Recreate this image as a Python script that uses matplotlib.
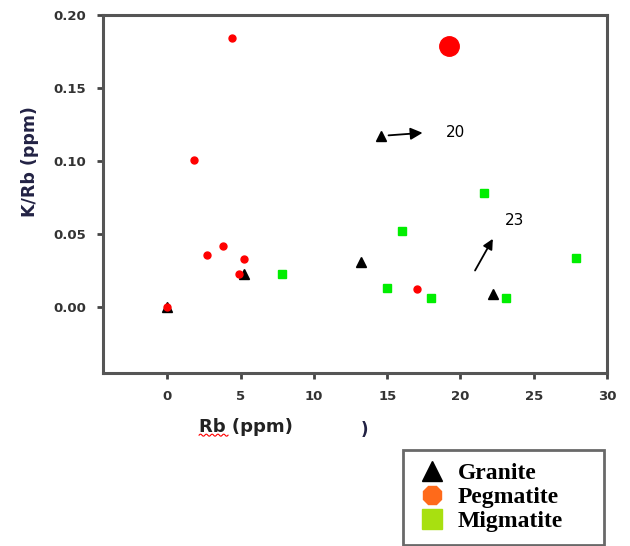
import matplotlib.pyplot as plt
from matplotlib.lines import Line2D
import numpy as np

# Pegmatite (red circles)
peg_rb = [0.0, 4.4, 1.8, 2.7, 3.8, 5.2, 4.9, 17.0]
peg_krb = [0.0, 0.184, 0.1005, 0.0355, 0.042, 0.033, 0.0225, 0.0123]
big_rb = [19.2]
big_krb = [0.179]

# Granite (black triangles)
gra_rb = [0.0, 5.2, 13.2, 14.6, 22.2]
gra_krb = [0.0, 0.023, 0.031, 0.117, 0.009]

# Migmatite (green squares)
mig_rb = [7.8, 16.0, 15.0, 18.0, 21.6, 23.1, 27.9]
mig_krb = [0.0225, 0.052, 0.013, 0.0065, 0.078, 0.0065, 0.0335]

xticks = [0, 5, 10, 15, 20, 25, 30]
yticks = [0.00, 0.05, 0.10, 0.15, 0.20]

fig = plt.figure(figsize=(6.3, 5.46), dpi=100)
ax = fig.add_axes([0.1635, 0.3168, 0.80, 0.6557])

ax.plot(mig_rb, mig_krb, 's', color='#00ee00', ms=6, ls='none')
ax.plot(gra_rb, gra_krb, '^', color='black', ms=6.5, ls='none')
ax.plot(peg_rb, peg_krb, 'o', color='#ff0000', ms=5, ls='none')
ax.plot(big_rb, big_krb, 'o', color='#ff0000', ms=14, ls='none')

ax.annotate('', xy=(17.6, 0.1195), xytext=(14.9, 0.1175),
            arrowprops=dict(arrowstyle='-|>', color='black', lw=1.3, mutation_scale=18))
ax.text(19.0, 0.1195, '20', fontsize=11, va='center', ha='left')
ax.annotate('', xy=(22.3, 0.0485), xytext=(20.9, 0.0235),
            arrowprops=dict(arrowstyle='-|>', color='black', lw=1.3, mutation_scale=15))
ax.text(23.0, 0.0595, '23', fontsize=11, va='center', ha='left')

ax.set_xlim(-4.4, 30)
ax.set_ylim(-0.045, 0.20)
ax.set_xticks(xticks)
ax.set_yticks(yticks)
ax.set_xticklabels([str(t) for t in xticks], fontweight='bold', color='#333333', fontsize=9.5)
ax.set_yticklabels(['%.2f' % t for t in yticks], fontweight='bold', color='#333333', fontsize=9.5)
ax.tick_params(direction='out', length=4, width=2, color='#444444', pad=8)
for s in ax.spines.values():
    s.set_linewidth(2.2)
    s.set_color('#555555')

ax.set_ylabel('K/Rb (ppm)', fontsize=12.5, fontweight='bold', color='#222244')
ax.yaxis.set_label_coords(-0.127, 0.59)
fig.text(0.316, 0.209, 'Rb (ppm)', fontsize=13, fontweight='bold', color='#222222')
fig.text(0.573, 0.203, ')', fontsize=12, fontweight='bold', color='#222244')

# spell-check underline under "Rb"
ux = np.linspace(0.316, 0.362, 30)
uy = 0.203 + 0.002 * np.sin(np.linspace(0, 10 * np.pi, 30))
fig.add_artist(Line2D(ux, uy, color='red', lw=0.8, transform=fig.transFigure))

handles = [
    Line2D([], [], marker='^', color='black', ls='none', ms=14),
    Line2D([], [], marker='8', color='#ff6a1a', ls='none', ms=14),
    Line2D([], [], marker='s', color='#a8e010', ls='none', ms=14),
]
leg = fig.legend(handles, ['Granite', 'Pegmatite', 'Migmatite'],
                 loc='lower left', bbox_to_anchor=(0.64, 0.002, 0.318, 0.17),
                 mode='expand', borderaxespad=0, frameon=True, fancybox=False,
                 prop={'family': 'Liberation Serif', 'weight': 'bold', 'size': 17},
                 handletextpad=0.45, labelspacing=0.1, borderpad=0.55, handlelength=1.3)
leg.get_frame().set_edgecolor('#444444')
leg.get_frame().set_linewidth(2)

fig.savefig('out.png', dpi=100)
